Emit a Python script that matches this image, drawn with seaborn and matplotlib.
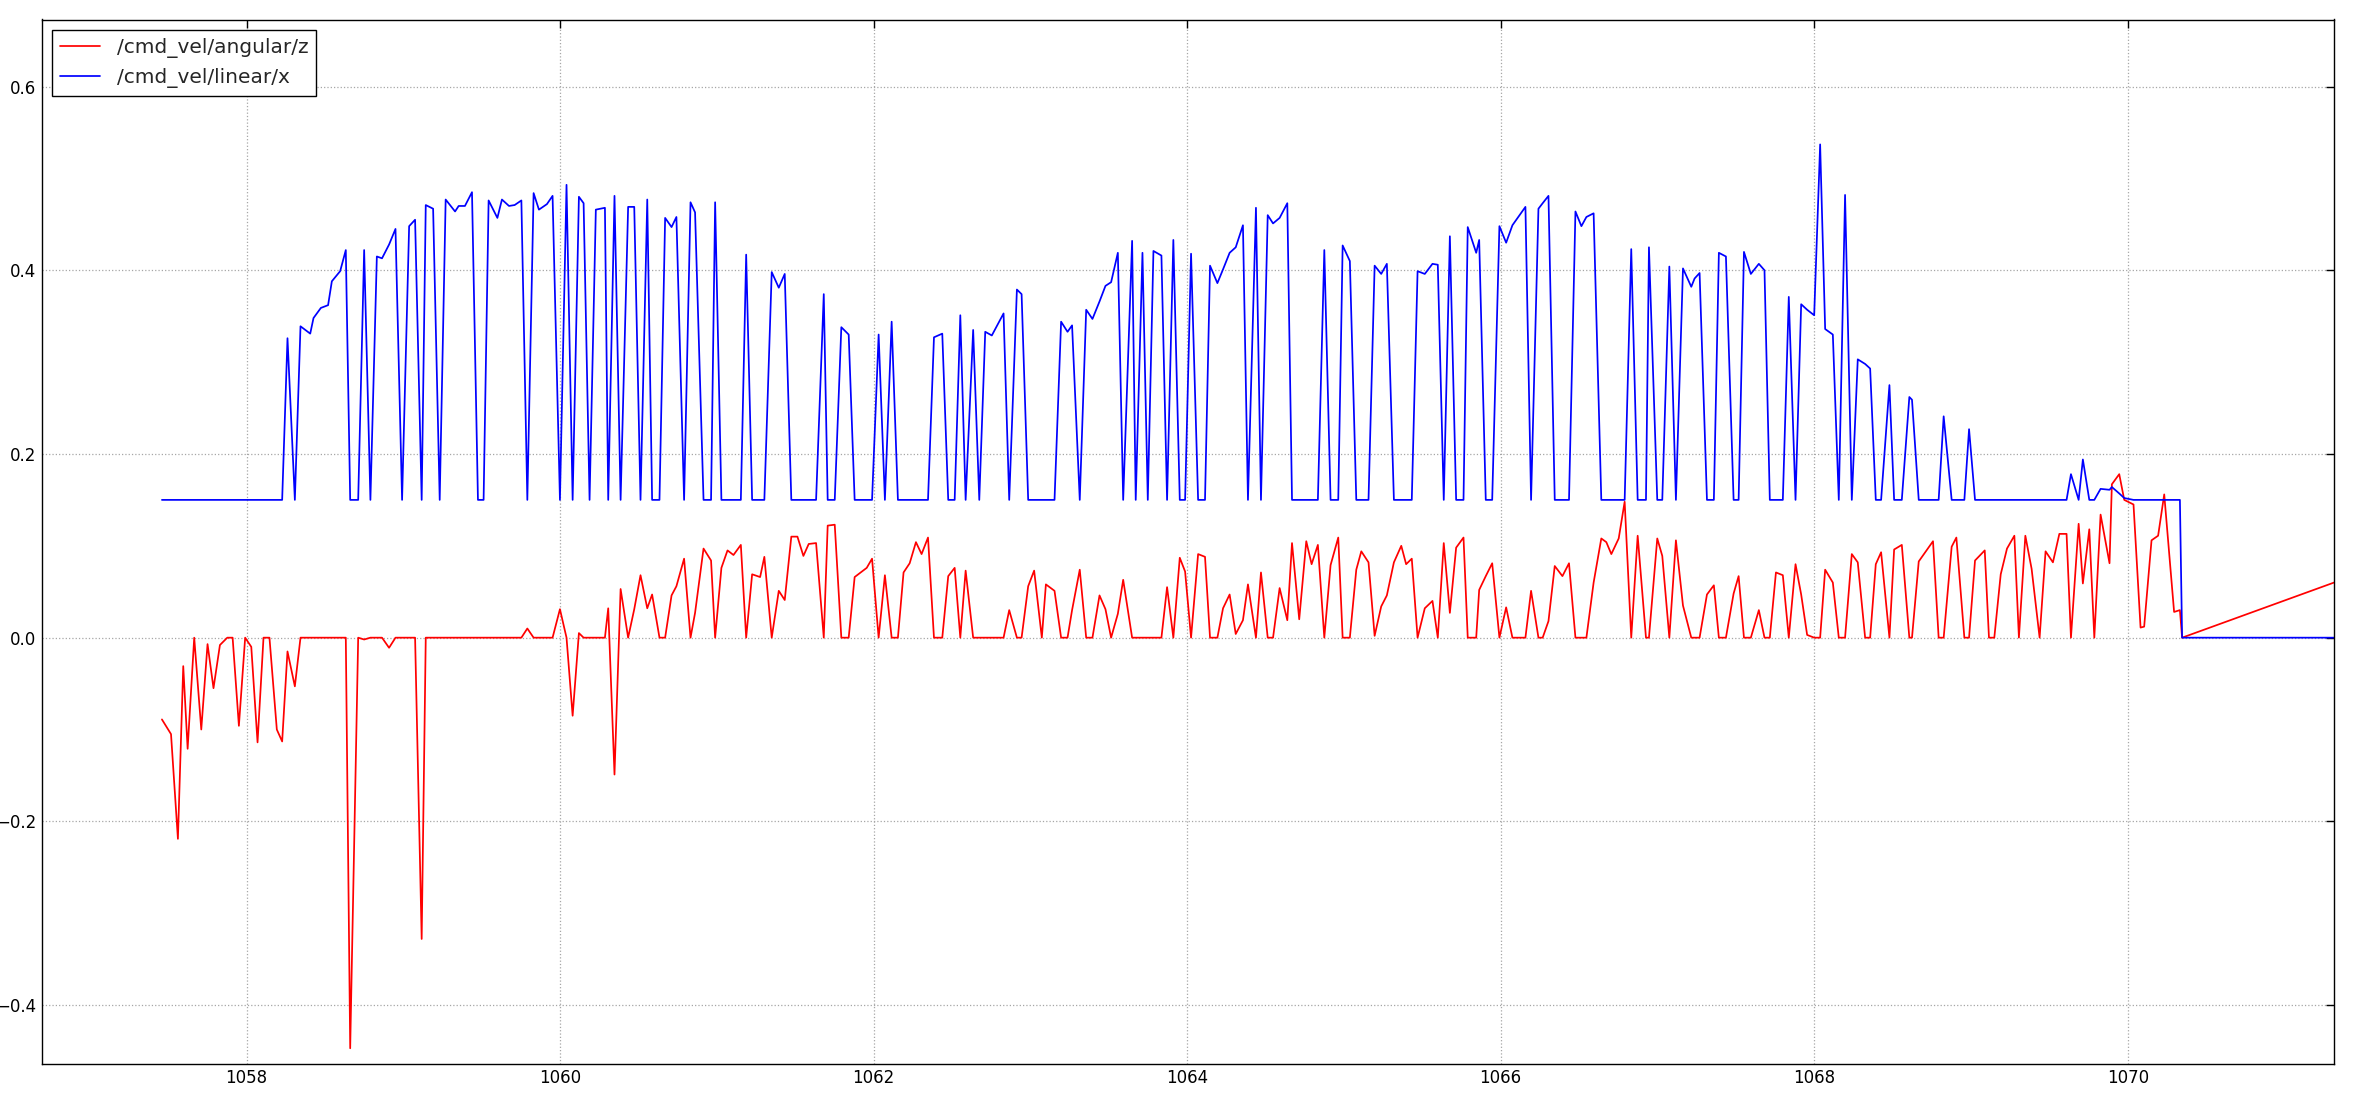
import numpy as np
import pandas as pd
import matplotlib
matplotlib.use('Agg')
import matplotlib.pyplot as plt
import seaborn as sns

# rqt_plot style capture of /cmd_vel
time_s = [
    1057.460, 1057.518, 1057.562, 1057.596, 1057.624, 1057.666, 1057.711, 1057.751, 1057.789, 1057.830,
    1057.877, 1057.911, 1057.951, 1057.991, 1058.030, 1058.070, 1058.108, 1058.146, 1058.193, 1058.227,
    1058.261, 1058.308, 1058.344, 1058.406, 1058.427, 1058.474, 1058.520, 1058.544, 1058.597, 1058.633,
    1058.661, 1058.712, 1058.750, 1058.790, 1058.831, 1058.864, 1058.909, 1058.950, 1058.992, 1059.037,
    1059.075, 1059.117, 1059.143, 1059.190, 1059.232, 1059.270, 1059.330, 1059.353, 1059.393, 1059.438,
    1059.476, 1059.512, 1059.544, 1059.600, 1059.629, 1059.674, 1059.710, 1059.753, 1059.791, 1059.831,
    1059.865, 1059.916, 1059.952, 1059.999, 1060.041, 1060.080, 1060.120, 1060.150, 1060.188, 1060.228,
    1060.286, 1060.307, 1060.347, 1060.386, 1060.434, 1060.473, 1060.513, 1060.556, 1060.587, 1060.634,
    1060.670, 1060.711, 1060.742, 1060.791, 1060.832, 1060.861, 1060.915, 1060.963, 1060.989, 1061.029,
    1061.068, 1061.106, 1061.153, 1061.187, 1061.225, 1061.276, 1061.303, 1061.350, 1061.395, 1061.433,
    1061.475, 1061.514, 1061.552, 1061.586, 1061.633, 1061.682, 1061.707, 1061.752, 1061.794, 1061.841,
    1061.879, 1061.956, 1061.990, 1062.032, 1062.072, 1062.115, 1062.155, 1062.191, 1062.230, 1062.270,
    1062.306, 1062.347, 1062.385, 1062.438, 1062.476, 1062.517, 1062.553, 1062.587, 1062.635, 1062.674,
    1062.712, 1062.754, 1062.829, 1062.865, 1062.914, 1062.944, 1062.986, 1063.024, 1063.073, 1063.099,
    1063.154, 1063.196, 1063.237, 1063.266, 1063.315, 1063.356, 1063.396, 1063.441, 1063.479, 1063.515,
    1063.558, 1063.592, 1063.649, 1063.672, 1063.715, 1063.749, 1063.785, 1063.836, 1063.872, 1063.912,
    1063.953, 1063.987, 1064.025, 1064.070, 1064.114, 1064.146, 1064.193, 1064.229, 1064.271, 1064.310,
    1064.356, 1064.388, 1064.439, 1064.471, 1064.514, 1064.548, 1064.590, 1064.639, 1064.669, 1064.715,
    1064.760, 1064.794, 1064.834, 1064.875, 1064.915, 1064.964, 1064.992, 1065.038, 1065.079, 1065.111,
    1065.157, 1065.196, 1065.238, 1065.274, 1065.319, 1065.366, 1065.397, 1065.433, 1065.470, 1065.516,
    1065.565, 1065.599, 1065.637, 1065.676, 1065.716, 1065.763, 1065.790, 1065.844, 1065.863, 1065.905,
    1065.946, 1065.992, 1066.035, 1066.075, 1066.158, 1066.194, 1066.241, 1066.268, 1066.305, 1066.345,
    1066.394, 1066.436, 1066.477, 1066.515, 1066.547, 1066.593, 1066.642, 1066.674, 1066.706, 1066.753,
    1066.791, 1066.833, 1066.874, 1066.927, 1066.946, 1066.999, 1067.031, 1067.076, 1067.118, 1067.163,
    1067.216, 1067.237, 1067.269, 1067.316, 1067.360, 1067.392, 1067.437, 1067.486, 1067.518, 1067.552,
    1067.596, 1067.647, 1067.683, 1067.717, 1067.756, 1067.800, 1067.838, 1067.881, 1067.917, 1067.955,
    1068.000, 1068.038, 1068.070, 1068.119, 1068.157, 1068.197, 1068.240, 1068.278, 1068.325, 1068.357,
    1068.393, 1068.427, 1068.480, 1068.510, 1068.559, 1068.607, 1068.624, 1068.667, 1068.758, 1068.794,
    1068.826, 1068.877, 1068.907, 1068.958, 1068.988, 1069.026, 1069.088, 1069.115, 1069.149, 1069.190,
    1069.230, 1069.277, 1069.306, 1069.347, 1069.387, 1069.438, 1069.476, 1069.523, 1069.564, 1069.610,
    1069.638, 1069.687, 1069.714, 1069.755, 1069.787, 1069.827, 1069.884, 1069.899, 1069.946, 1069.978,
    1070.037, 1070.082, 1070.105, 1070.152, 1070.194, 1070.233, 1070.296, 1070.333, 1070.347, 1071.316,
]

angular_z = [
    -0.089, -0.105, -0.219, -0.031, -0.121, 0.0, -0.100, -0.007, -0.055, -0.008,
    0.0, 0.0, -0.096, 0.0, -0.010, -0.114, 0.0, 0.0, -0.100, -0.113,
    -0.015, -0.053, 0.0, 0.0, 0.0, 0.0, 0.0, 0.0, 0.0, 0.0,
    -0.447, 0.0, -0.002, 0.0, 0.0, 0.0, -0.011, 0.0, 0.0, 0.0,
    0.0, -0.328, 0.0, 0.0, 0.0, 0.0, 0.0, 0.0, 0.0, 0.0,
    0.0, 0.0, 0.0, 0.0, 0.0, 0.0, 0.0, 0.0, 0.010, 0.0,
    0.0, 0.0, 0.0, 0.031, 0.0, -0.085, 0.005, 0.0, 0.0, 0.0,
    0.0, 0.032, -0.149, 0.053, 0.0, 0.031, 0.068, 0.032, 0.047, 0.0,
    0.0, 0.046, 0.056, 0.086, 0.0, 0.027, 0.097, 0.084, 0.0, 0.076,
    0.095, 0.090, 0.101, 0.0, 0.069, 0.066, 0.088, 0.0, 0.051, 0.041,
    0.110, 0.110, 0.089, 0.102, 0.103, 0.0, 0.122, 0.123, 0.0, 0.0,
    0.066, 0.076, 0.086, 0.0, 0.068, 0.0, 0.0, 0.071, 0.081, 0.104,
    0.091, 0.109, 0.0, 0.0, 0.067, 0.076, 0.0, 0.073, 0.0, 0.0,
    0.0, 0.0, 0.0, 0.030, 0.0, 0.0, 0.056, 0.073, 0.0, 0.058,
    0.051, 0.0, 0.0, 0.030, 0.074, 0.0, 0.0, 0.046, 0.031, 0.0,
    0.026, 0.063, 0.0, 0.0, 0.0, 0.0, 0.0, 0.0, 0.055, 0.0,
    0.087, 0.072, 0.0, 0.091, 0.088, 0.0, 0.0, 0.032, 0.047, 0.004,
    0.019, 0.058, 0.0, 0.071, 0.0, 0.0, 0.054, 0.019, 0.103, 0.020,
    0.105, 0.080, 0.101, 0.0, 0.079, 0.109, 0.0, 0.0, 0.074, 0.094,
    0.082, 0.002, 0.034, 0.046, 0.082, 0.100, 0.080, 0.086, 0.0, 0.032,
    0.040, 0.0, 0.103, 0.027, 0.098, 0.109, 0.0, 0.0, 0.052, 0.067,
    0.081, 0.0, 0.033, 0.0, 0.0, 0.051, 0.0, 0.0, 0.018, 0.078,
    0.067, 0.081, 0.0, 0.0, 0.0, 0.060, 0.108, 0.104, 0.091, 0.108,
    0.148, 0.0, 0.111, 0.0, 0.0, 0.108, 0.089, 0.0, 0.106, 0.035,
    0.0, 0.0, 0.0, 0.047, 0.057, 0.0, 0.0, 0.048, 0.067, 0.0,
    0.0, 0.030, 0.0, 0.0, 0.071, 0.068, 0.0, 0.080, 0.047, 0.003,
    0.0, 0.0, 0.074, 0.060, 0.0, 0.0, 0.091, 0.082, 0.0, 0.0,
    0.080, 0.093, 0.0, 0.096, 0.101, 0.0, 0.0, 0.083, 0.105, 0.0,
    0.0, 0.099, 0.109, 0.0, 0.0, 0.084, 0.095, 0.0, 0.0, 0.069,
    0.097, 0.111, 0.0, 0.111, 0.075, 0.0, 0.094, 0.082, 0.113, 0.113,
    0.0, 0.124, 0.059, 0.118, 0.0, 0.134, 0.081, 0.167, 0.178, 0.150,
    0.145, 0.011, 0.012, 0.106, 0.111, 0.156, 0.028, 0.030, 0.0, 0.060,
]

linear_x = [
    0.15, 0.15, 0.15, 0.15, 0.15, 0.15, 0.15, 0.15, 0.15, 0.15,
    0.15, 0.15, 0.15, 0.15, 0.15, 0.15, 0.15, 0.15, 0.15, 0.15,
    0.326, 0.15, 0.339, 0.331, 0.348, 0.359, 0.362, 0.388, 0.399, 0.422,
    0.15, 0.15, 0.422, 0.15, 0.415, 0.413, 0.428, 0.445, 0.15, 0.448,
    0.455, 0.15, 0.471, 0.467, 0.15, 0.477, 0.464, 0.470, 0.470, 0.485,
    0.15, 0.15, 0.476, 0.457, 0.477, 0.470, 0.471, 0.476, 0.15, 0.484,
    0.466, 0.472, 0.481, 0.15, 0.493, 0.15, 0.480, 0.473, 0.15, 0.466,
    0.468, 0.15, 0.481, 0.15, 0.469, 0.469, 0.15, 0.477, 0.15, 0.15,
    0.457, 0.447, 0.458, 0.15, 0.474, 0.463, 0.15, 0.15, 0.474, 0.15,
    0.15, 0.15, 0.15, 0.417, 0.15, 0.15, 0.15, 0.398, 0.381, 0.396,
    0.15, 0.15, 0.15, 0.15, 0.15, 0.374, 0.15, 0.15, 0.338, 0.330,
    0.15, 0.15, 0.15, 0.330, 0.15, 0.344, 0.15, 0.15, 0.15, 0.15,
    0.15, 0.15, 0.327, 0.331, 0.15, 0.15, 0.351, 0.15, 0.335, 0.15,
    0.333, 0.329, 0.353, 0.15, 0.379, 0.374, 0.15, 0.15, 0.15, 0.15,
    0.15, 0.344, 0.333, 0.340, 0.15, 0.357, 0.347, 0.366, 0.383, 0.387,
    0.419, 0.15, 0.432, 0.15, 0.419, 0.15, 0.421, 0.416, 0.15, 0.433,
    0.15, 0.15, 0.418, 0.15, 0.15, 0.405, 0.386, 0.401, 0.419, 0.425,
    0.449, 0.15, 0.468, 0.15, 0.460, 0.451, 0.457, 0.473, 0.15, 0.15,
    0.15, 0.15, 0.15, 0.422, 0.15, 0.15, 0.427, 0.410, 0.15, 0.15,
    0.15, 0.405, 0.396, 0.407, 0.15, 0.15, 0.15, 0.15, 0.399, 0.396,
    0.407, 0.406, 0.15, 0.437, 0.15, 0.15, 0.447, 0.419, 0.433, 0.15,
    0.15, 0.448, 0.430, 0.449, 0.469, 0.15, 0.467, 0.473, 0.481, 0.15,
    0.15, 0.15, 0.464, 0.448, 0.458, 0.462, 0.15, 0.15, 0.15, 0.15,
    0.15, 0.423, 0.15, 0.15, 0.425, 0.15, 0.15, 0.404, 0.15, 0.402,
    0.382, 0.391, 0.397, 0.15, 0.15, 0.419, 0.415, 0.15, 0.15, 0.420,
    0.396, 0.407, 0.400, 0.15, 0.15, 0.15, 0.371, 0.15, 0.363, 0.357,
    0.351, 0.537, 0.336, 0.330, 0.15, 0.482, 0.15, 0.303, 0.298, 0.293,
    0.15, 0.15, 0.275, 0.15, 0.15, 0.262, 0.259, 0.15, 0.15, 0.15,
    0.241, 0.15, 0.15, 0.15, 0.227, 0.15, 0.15, 0.15, 0.15, 0.15,
    0.15, 0.15, 0.15, 0.15, 0.15, 0.15, 0.15, 0.15, 0.15, 0.15,
    0.178, 0.15, 0.194, 0.15, 0.15, 0.162, 0.161, 0.164, 0.157, 0.152,
    0.15, 0.15, 0.15, 0.15, 0.15, 0.15, 0.15, 0.15, 0.0, 0.0,
]

topics = ['/cmd_vel/angular/z', '/cmd_vel/linear/x']
x_ticks = [1058, 1060, 1062, 1064, 1066, 1068, 1070]
y_ticks = [-0.4, -0.2, 0.0, 0.2, 0.4, 0.6]

sns.set_style('white')
plt.rcParams['font.family'] = ['DejaVu Sans']

# long format so seaborn can colour by topic
df = pd.DataFrame({'t': time_s, topics[0]: angular_z, topics[1]: linear_x})
long_df = df.melt(id_vars='t', var_name='topic', value_name='value')

fig = plt.figure(figsize=(23.55, 11.02), dpi=100)
ax = fig.add_axes([42 / 2355, 1 - 1063.5 / 1102, 2292 / 2355, 1044 / 1102])

sns.lineplot(data=long_df, x='t', y='value', hue='topic', hue_order=topics,
             palette={topics[0]: 'red', topics[1]: 'blue'},
             estimator=None, errorbar=None, linewidth=1.25, ax=ax)

ax.set_xlim(1056.695, 1071.316)
ax.set_ylim(-0.4636, 0.673)
ax.set_xticks(x_ticks)
ax.set_xticklabels([str(v) for v in x_ticks])
ax.set_yticks(y_ticks)
ax.set_xlabel('')
ax.set_ylabel('')

# old matplotlib look: black frame, inward ticks on all sides, dotted grid
for sp in ax.spines.values():
    sp.set_visible(True)
    sp.set_color('black')
    sp.set_linewidth(1.0)
ax.tick_params(direction='in', top=True, right=True, length=6, width=1,
               labelsize=12, colors='black', pad=4)
ax.grid(True, color='0.65', linestyle=':', linewidth=0.9)
ax.set_axisbelow(True)

handles, labels = ax.get_legend_handles_labels()
leg = ax.legend(handles, labels, loc='upper left', fontsize=14.5, fancybox=False,
                framealpha=1, edgecolor='black', borderaxespad=0.5, handlelength=2.0)
leg.get_frame().set_linewidth(1.0)

fig.savefig('out.png', dpi=100)
